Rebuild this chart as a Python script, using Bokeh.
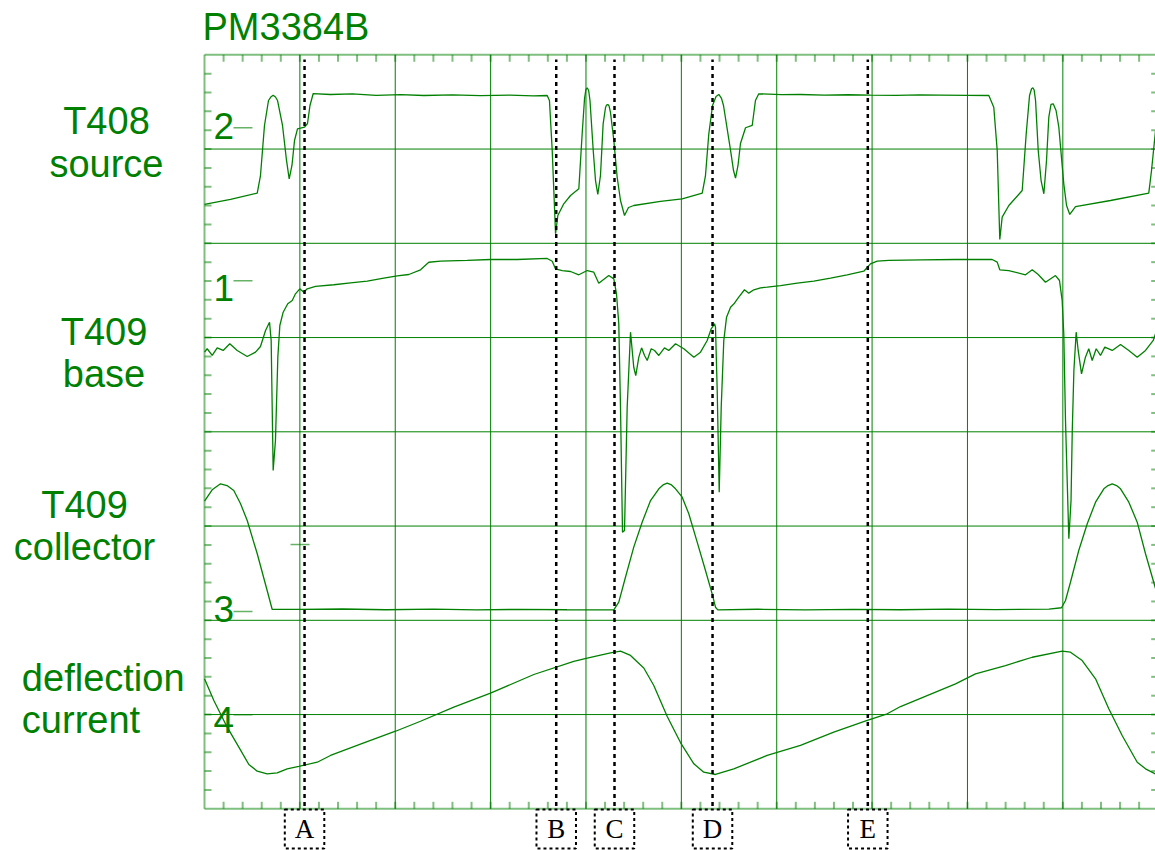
import numpy as np
from bokeh.plotting import figure
from bokeh.models import Range1d
from bokeh.core.properties import value
from bokeh.embed import file_html
from bokeh.resources import INLINE

# ---------------- data (scope divisions: x = time div, y = screen div from bottom) -------------
title_text = "PM3384B"
channel_lines = [["T408", "source"], ["T409", "base"], ["T409", "collector"], ["deflection", "current"]]
channel_digits = ["2", "1", "3", "4"]
channel_ground = [7.225, 5.602, 2.093, 0.997]   # ground-level markers (div)
trigger_level = 2.804

marker_x = [1.049, 3.688, 4.299, 5.327, 6.955]
marker_labels = ["A", "B", "C", "D", "E"]

t408_x = [0.000, 0.273, 0.553, 0.587, 0.629, 0.671, 0.695, 0.720, 0.744, 0.766, 0.818, 0.860, 0.888,
          0.917, 0.944, 0.975, 1.049, 1.080, 1.106, 1.140, 1.321, 1.55, 1.80, 2.055, 2.30, 2.60, 2.894,
          3.20, 3.45, 3.593, 3.617, 3.646, 3.681, 3.705, 3.767, 3.838, 3.925, 3.960, 3.985, 3.999, 4.013,
          4.028, 4.042, 4.076, 4.100, 4.124, 4.152, 4.180, 4.205, 4.215, 4.229, 4.242, 4.257, 4.292,
          4.327, 4.362, 4.404, 4.446, 4.501, 4.781, 5.009, 5.219, 5.253, 5.288, 5.327, 5.364, 5.393,
          5.421, 5.442, 5.516, 5.547, 5.568, 5.594, 5.620, 5.673, 5.743, 5.777, 5.812, 6.05, 6.249, 6.50,
          6.75, 6.983, 7.25, 7.50, 7.718, 8.00, 8.224, 8.276, 8.312, 8.339, 8.364, 8.434, 8.574, 8.616,
          8.651, 8.672, 8.686, 8.699, 8.714, 8.742, 8.772, 8.801, 8.829, 8.853, 8.876, 8.899, 8.929,
          8.958, 9.010, 9.039, 9.073, 9.133, 9.500, 9.901, 9.930, 9.972]
t408_y = [6.412, 6.465, 6.532, 6.719, 7.250, 7.515, 7.552, 7.571, 7.552, 7.515, 7.250, 6.879, 6.684,
          6.826, 7.091, 7.215, 7.232, 7.271, 7.462, 7.589, 7.579, 7.585, 7.570, 7.578, 7.568, 7.575, 7.566,
          7.572, 7.565, 7.568, 7.515, 6.985, 6.101, 6.295, 6.419, 6.507, 6.578, 7.162, 7.536, 7.632, 7.650,
          7.621, 7.515, 6.985, 6.666, 6.518, 6.719, 7.268, 7.441, 7.466, 7.473, 7.458, 7.388, 7.091,
          6.701, 6.454, 6.295, 6.380, 6.401, 6.444, 6.472, 6.532, 6.719, 7.162, 7.462, 7.558, 7.579,
          7.537, 7.462, 6.985, 6.772, 6.691, 6.826, 7.059, 7.226, 7.250, 7.515, 7.586, 7.578, 7.579, 7.572,
          7.576, 7.573, 7.570, 7.575, 7.573, 7.570, 7.568, 7.444, 6.985, 6.040, 6.277, 6.401, 6.560, 7.162,
          7.568, 7.640, 7.650, 7.627, 7.515, 6.985, 6.666, 6.525, 6.879, 7.338, 7.473, 7.480, 7.409,
          7.232, 6.631, 6.401, 6.306, 6.390, 6.454, 6.532, 6.772, 7.197]

t409b_x = [0.000, 0.028, 0.081, 0.133, 0.196, 0.265, 0.343, 0.448, 0.535, 0.587, 0.640, 0.682, 0.699,
           0.720, 0.744, 0.769, 0.790, 0.825, 0.873, 0.920, 0.954, 0.999, 1.041, 1.077, 1.164, 1.356,
           1.531, 1.706, 1.880, 2.021, 2.142, 2.265, 2.352, 2.475, 2.755, 2.999, 3.279, 3.593, 3.646,
           3.680, 3.751, 3.838, 3.925, 4.013, 4.082, 4.134, 4.239, 4.292, 4.320, 4.344, 4.362, 4.383,
           4.404, 4.432, 4.467, 4.501, 4.522, 4.554, 4.583, 4.614, 4.642, 4.684, 4.719, 4.764, 4.823,
           4.868, 4.939, 5.026, 5.131, 5.201, 5.271, 5.313, 5.348, 5.358, 5.376, 5.397, 5.418, 5.445,
           5.474, 5.516, 5.557, 5.602, 5.662, 5.707, 5.760, 5.830, 5.900, 6.040, 6.215, 6.389, 6.564,
           6.739, 6.913, 6.983, 7.054, 7.175, 7.525, 7.875, 8.259, 8.312, 8.339, 8.433, 8.609, 8.679,
           8.742, 8.818, 8.923, 8.965, 8.993, 9.010, 9.028, 9.063, 9.086, 9.099, 9.116, 9.140, 9.161,
           9.196, 9.237, 9.272, 9.308, 9.350, 9.395, 9.440, 9.518, 9.605, 9.692, 9.780, 9.867, 9.948,
           9.972]
t409b_y = [4.845, 4.881, 4.810, 4.891, 4.863, 4.934, 4.863, 4.799, 4.845, 4.905, 5.075, 5.163, 4.969,
           3.589, 3.908, 4.792, 5.128, 5.269, 5.358, 5.393, 5.464, 5.517, 5.481, 5.517, 5.542, 5.560,
           5.581, 5.598, 5.630, 5.655, 5.669, 5.719, 5.799, 5.810, 5.818, 5.828, 5.828, 5.839, 5.810,
           5.729, 5.711, 5.701, 5.666, 5.711, 5.693, 5.577, 5.658, 5.623, 5.464, 5.146, 4.261, 2.935,
           2.953, 4.261, 5.057, 4.685, 4.597, 4.792, 4.891, 4.810, 4.757, 4.881, 4.863, 4.810, 4.891,
           4.863, 4.934, 4.881, 4.792, 4.845, 4.969, 5.093, 5.146, 5.110, 4.438, 3.359, 4.261, 4.969,
           5.216, 5.322, 5.364, 5.428, 5.507, 5.471, 5.507, 5.528, 5.534, 5.552, 5.577, 5.598, 5.630,
           5.666, 5.704, 5.782, 5.810, 5.818, 5.825, 5.828, 5.828, 5.800, 5.719, 5.711, 5.666, 5.719,
           5.669, 5.587, 5.658, 5.605, 5.393, 5.040, 4.120, 2.865, 3.271, 4.014, 4.650, 5.057, 4.863,
           4.615, 4.792, 4.881, 4.757, 4.881, 4.810, 4.898, 4.863, 4.926, 4.863, 4.792, 4.863, 4.969,
           5.040]

t409c_x = [0.000, 0.084, 0.168, 0.236, 0.307, 0.377, 0.448, 0.553, 0.657, 0.710, 1.007, 1.45, 1.90,
           2.40, 2.85, 3.30, 3.80, 4.292, 4.344, 4.414, 4.501, 4.589, 4.677, 4.764, 4.808, 4.852, 4.897,
           4.939, 5.009, 5.078, 5.166, 5.253, 5.323, 5.358, 5.382, 5.80, 6.30, 6.80, 7.30, 7.80, 8.30,
           8.854, 8.986, 9.028, 9.080, 9.167, 9.256, 9.343, 9.430, 9.474, 9.518, 9.563, 9.605, 9.692,
           9.780, 9.867, 9.972]
t409c_y = [3.264, 3.388, 3.448, 3.430, 3.377, 3.239, 3.059, 2.706, 2.316, 2.115, 2.115, 2.120, 2.112,
           2.118, 2.110, 2.116, 2.112, 2.111, 2.192, 2.457, 2.776, 3.041, 3.271, 3.395, 3.436, 3.455, 3.436,
           3.395, 3.306, 3.130, 2.829, 2.528, 2.281, 2.139, 2.111, 2.117, 2.110, 2.116, 2.112, 2.118, 2.113,
           2.118, 2.133, 2.210, 2.404, 2.741, 3.024, 3.253, 3.395, 3.430, 3.448, 3.430, 3.395, 3.253,
           3.041, 2.706, 2.337]

defl_x = [0.000, 0.098, 0.238, 0.360, 0.465, 0.553, 0.657, 0.762, 0.867, 0.989, 1.182, 1.321, 1.670,
          2.003, 2.265, 2.614, 2.999, 3.453, 3.872, 4.013, 4.257, 4.362, 4.467, 4.606, 4.711, 4.852,
          4.991, 5.131, 5.235, 5.358, 5.550, 5.900, 6.249, 6.598, 6.949, 7.159, 7.298, 7.875, 8.084,
          8.399, 8.679, 8.993, 9.080, 9.203, 9.343, 9.482, 9.622, 9.780, 9.867, 9.972]
defl_y = [1.379, 1.149, 0.866, 0.654, 0.470, 0.399, 0.371, 0.382, 0.424, 0.449, 0.494, 0.566, 0.700,
          0.823, 0.929, 1.078, 1.227, 1.425, 1.563, 1.598, 1.655, 1.672, 1.627, 1.494, 1.308, 0.979,
          0.703, 0.477, 0.388, 0.364, 0.424, 0.566, 0.672, 0.813, 0.937, 1.008, 1.085, 1.326, 1.432,
          1.520, 1.608, 1.672, 1.662, 1.573, 1.379, 1.061, 0.778, 0.494, 0.424, 0.369]

# ---------------- layout / style ----------------
W, H = 1155, 850
PX_X, PX_Y = 95.37, 94.25          # pixels per division
LEFT_PX, BOTTOM_PX = 204.0, 41.7   # scope frame offset inside canvas
NX, NY = 10, 8
GREEN = "#008000"
TICK_PX = 7

xs0 = -LEFT_PX / PX_X
ys0 = -BOTTOM_PX / PX_Y
p = figure(width=W, height=H,
           x_range=Range1d(xs0, xs0 + W / PX_X), y_range=Range1d(ys0, ys0 + H / PX_Y),
           output_backend="svg", toolbar_location=None,
           x_axis_location=None, y_axis_location=None, min_border=0,
           outline_line_color=None, background_fill_color="white", border_fill_color="white")
p.grid.visible = False

# graticule
vx = np.arange(1, NX)
hy = np.arange(1, NY)
p.segment(x0=vx, y0=0, x1=vx, y1=NY, line_color=GREEN, line_width=1)
p.segment(x0=0, y0=hy, x1=NX, y1=hy, line_color=GREEN, line_width=1)
# frame
p.segment(x0=[0, 0, 0, NX], y0=[0, NY, 0, 0], x1=[0, NX, NX, NX], y1=[NY, NY, 0, NY],
          line_color=GREEN, line_alpha=0.5, line_width=2)
# ticks
tx = np.round(np.arange(0.2, NX, 0.2), 6)
ty = np.round(np.arange(0.2, NY, 0.2), 6)
tk = dict(line_color=GREEN, line_alpha=0.5, line_width=2)
p.segment(x0=tx, y0=NY, x1=tx, y1=NY - TICK_PX / PX_Y, **tk)
p.segment(x0=tx, y0=0, x1=tx, y1=TICK_PX / PX_Y, **tk)
p.segment(x0=0, y0=ty, x1=TICK_PX / PX_X, y1=ty, **tk)
p.segment(x0=NX, y0=ty, x1=NX - TICK_PX / PX_X, y1=ty, **tk)

# ground markers + trigger marker
gx0, gx1 = 0.304, 0.503
p.segment(x0=gx0, y0=channel_ground, x1=gx1, y1=channel_ground, line_color=GREEN, line_alpha=0.6, line_width=1.5)
p.segment(x0=0.902, y0=trigger_level, x1=1.101, y1=trigger_level, line_color=GREEN, line_alpha=0.6, line_width=1.5)
p.text(x=[0.094] * 4, y=[7.249, 5.525, 2.120, 0.937], text=channel_digits,
       text_font=value("Liberation Sans"), text_font_size="37px", text_color=GREEN,
       text_align="left", text_baseline="alphabetic")

# traces
for tx_, ty_ in [(t408_x, t408_y), (t409b_x, t409b_y), (t409c_x, t409c_y), (defl_x, defl_y)]:
    p.line(tx_, ty_, line_color=GREEN, line_width=1.3)

# cursor markers
p.segment(x0=marker_x, y0=0.03, x1=marker_x, y1=7.95, line_color="black", line_width=2.5, line_dash="4 4")
p.rect(x=marker_x, y=-0.214, width=39.5, height=39, width_units="screen", height_units="screen",
       fill_color=None, line_color="black", line_width=2, line_dash="3 3")
p.text(x=marker_x, y=-0.213, text=marker_labels, text_font=value("Liberation Serif"),
       text_font_size="27px", text_color="black", text_align="center", text_baseline="alphabetic")

# channel names
lab = dict(text_font=value("Liberation Sans"), text_font_size="38px", text_color=GREEN,
           text_baseline="alphabetic")
centers = [(-1.028, 7.294, 6.838), (-1.054, 5.059, 4.610), (-1.258, 3.220, 2.777)]
for (cx, yb1, yb2), lines in zip(centers, channel_lines[:3]):
    p.text(x=[cx, cx], y=[yb1, yb2], text=lines, text_align="center", **lab)
p.text(x=[-1.915, -1.915], y=[1.391, 0.939], text=channel_lines[3], text_align="left", **lab)

# title
p.text(x=[-0.021], y=[8.295], text=[title_text], text_align="left", **lab)

open("out.html", "w").write(file_html(p, INLINE))
